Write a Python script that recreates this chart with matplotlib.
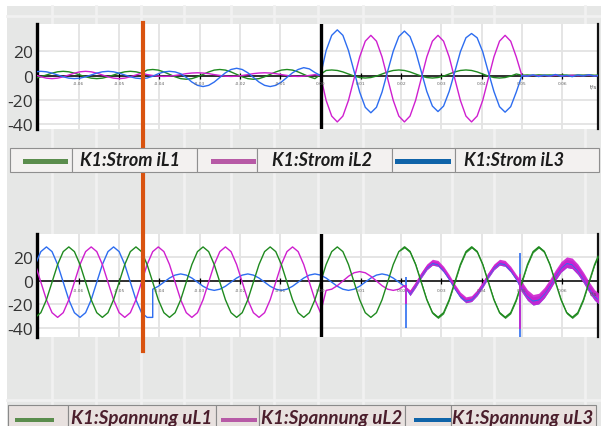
import numpy as np
import matplotlib
matplotlib.use("Agg")
import matplotlib.pyplot as plt
from matplotlib.patches import Rectangle
from matplotlib.lines import Line2D
from matplotlib.transforms import blended_transform_factory

# ---------------- data ----------------
# sample grid: 720 samples per second (one sample every 30 degrees of the 60 Hz wave)
sample_index = np.arange(-51, 51)
t = sample_index / 720.0

# currents (top panel)
iL1 = [-2.1, -1, 0.5,
       2, 3.1, 3.5, 3.1, 2, 0.5, -1, -2.1, -2.5, -2.1, -1, 0.5,
       2, 3.1, 3.5, 3.1, 2, 4.5, 5, 4.5, 3, 1, -1, -2.5,
       -3, -2.5, -1, 1, 3, 4.5, 5, 4.5, 3, 1, -1, -2.5,
       -3, -2.5, -1, 1, 3, 4.5, 5, 4.5, 3, 1, -1, -2.5,
       1, 4.2, 4.6, 4.2, 3, 1.3, -0.4, -1.6, -2, -1.6, -0.4, 1.3,
       3, 4.2, 4.6, 4.2, 3, 1.3, -0.4, -1.6, -2, -1.6, -0.4, 1.3,
       3, 4.2, 4.6, 4.2, 3, 1.3, -0.4, -1.6, -2, -1.6, -0.4, 1.3,
       0.3, 0.5, 0.2, 0.6, 0.4, 0.5, 0.3, 0.6, 0.4, 0.2, 0.5, 0.4,
       0.6, 0.3, 0.5]
iL2 = [0.5, -1, -2.1,
       -2.5, -2.1, -1, 0.5, 2, 3.1, 3.5, 3.1, 2, 0.5, -1, -2.1,
       -2.5, -2.1, -1, 0.5, 2, 0.8, 0.1, -0.5, -0.7, -0.5, 0.1, 0.8,
       1.6, 2.1, 2.3, 2.1, 1.6, 0.8, 0.1, -0.5, -0.7, -0.5, 0.1, 0.8,
       1.6, 2.1, 2.3, 2.1, 1.6, 0.8, 0.1, -0.5, -0.7, -0.5, 0.1, 0.8,
       0, -20.3, -33.2, -38, -33.2, -20.3, -2.5, 15.3, 28.2, 33, 28.2, 15.3,
       -2.5, -20.3, -33.2, -38, -33.2, -20.3, -2.5, 15.3, 28.2, 33, 28.2, 15.3,
       -2.5, -20.3, -33.2, -38, -33.2, -20.3, -2.5, 15.3, 28.2, 33, 28.2, 15.3,
       0, -0.3, 0.2, -0.2, 0.1, -0.3, 0.2, 0, -0.2, 0.3, -0.1, 0,
       0.2, -0.2, 0.1]
iL3 = [3.1, 3.5, 3.1,
       2, 0.5, -1, -2.1, -2.5, -2.1, -1, 0.5, 2, 3.1, 3.5, 3.1,
       2, 0.5, -1, -2.1, -2.5, -2, -0.5, 1.5, 3, 3.5, 3, 1.5,
       -1.5, -5.3, -8, -9, -8, -5.3, -1.5, 2.3, 5, 6, 5, 2.3,
       -1.5, -5.3, -8, -9, -8, -5.3, -1.5, 2.3, 5, 6.5, 5.5, 2.5,
       0, 20.5, 33, 37.5, 33, 20.5, 3.5, -13.5, -26, -30.5, -26, -13.5,
       3.5, 20, 32, 36.5, 32, 20, 3.5, -13, -25, -29.5, -25, -13,
       3, 19.5, 31, 34.5, 31, 19.5, 3, -13, -25.5, -30, -25.5, -13.5,
       0, -0.5, 0.6, -0.8, 0.3, -0.4, 0.9, -0.6, 0.2, -0.9, 0.5, -0.3,
       0.7, -0.5, 0.4]

# voltages (bottom panel)
uL1 = [-31, -27, -16,
       -1, 14, 25, 29, 25, 14, -1, -16, -27, -31, -27, -16,
       -1, 14, 25, 29, 25, 14, -1, -16, -27, -31, -27, -16,
       -1, 14, 25, 29, 25, 14, -1, -16, -27, -31, -27, -16,
       -1, 14, 25, 29, 25, 14, -1, -16, -27, -31, -27, -16,
       -1, 14, 25, 29, 25, 14, -1, -16, -27, -31, -27, -16,
       -1, 14, 25, 29, 25, 14, -1, -16, -27, -31, -27, -16,
       -1, 14, 25, 29, 25, 14, -1, -16, -27, -31, -27, -16,
       -1, 14, 25, 29, 25, 14, -1, -16, -27, -31, -27, -16,
       -1, 14, 25]
uL2 = [14, -1, -16,
       -27, -31, -27, -16, -1, 14, 25, 29, 25, 14, -1, -16,
       -27, -31, -27, -16, -1, 14, 25, 29, 25, 14, -1, -16,
       -27, -31, -27, -16, -1, 14, 25, 29, 25, 14, -1, -16,
       -27, -31, -27, -16, -1, 14, 25, 29, 25, 14, -1, -16,
       -27, -8, -7, -4, 0, 4, 7, 8, 7, 4, 0, -4,
       -7, -8, -7, -4, -10, -3, 5, 12, 16, 15, 10, 3,
       -5, -12, -16, -15, -10, -3, 5, 12, 16, 15, 10, 3,
       -5, -12, -16, -15, -10, -3, 5, 12, 16, 15, 10, 3,
       -5, -12, -16]
uL3 = [14, 25, 29,
       25, 14, -1, -16, -27, -31, -27, -16, -1, 14, 25, 29,
       25, 14, -1, -16, -27, -31, -7, -4.5, -1, 2.5, 5, 6,
       5, 2.5, -1, -4.5, -7, -8, -7, -4.5, -1, 2.5, 5, 6,
       5, 2.5, -1, -4.5, -7, -8, -7, -4.5, -1, 2.5, 5, 6,
       5, 2.5, -1, -4.5, -7, -8, -7, -4.5, -1, 2.5, 5, 6,
       5, 2.5, -1, -4.5, -11, -4, 4, 11, 15, 14, 9, 2,
       -6, -13, -17, -16, -11, -4, 4, 11, 15, 14, 9, 2,
       -6, -13, -17, -16, -11, -4, 4, 11, 15, 14, 9, 2,
       -6, -13, -17]
uL3_hold_t = -30 / 720.0     # uL3 stays at its minimum until here, then jumps
uL3_hold = -31

# half widths of the noisy bands
uL1_band = [0] * 66 + [1.0] * 36
uL2_band = [0] * 67 + [2.5] * 20 + [4.5] * 15
uL3_band = [0] * 67 + [1.5] * 20 + [3.5] * 15

# switching spikes
spike_t = [0.0212, 0.0495]
uL2_spike_lo = [-20, -41]
uL2_spike_hi = [-3, 6]
uL3_spike_lo = [-40, -48]
uL3_spike_hi = [3, 24]

cursor_t = -0.0442

x_ticks = [-0.06, -0.05, -0.04, -0.03, -0.02, -0.01, 0.0, 0.01, 0.02, 0.03, 0.04, 0.05, 0.06]
x_ticklabels = ['-0.06', '-0.05', '-0.04', '-0.03', '-0.02', '-0.01', '0.00',
                '0.01', '0.02', '0.03', '0.04', '0.05', '0.06']
y_ticks = [20, 0, -20, -40]

legend_top = ['K1:Strom iL1', 'K1:Strom iL2', 'K1:Strom iL3']
legend_bottom = ['K1:Spannung uL1', 'K1:Spannung uL2', 'K1:Spannung uL3']

# ---------------- styling ----------------
W, H = 601, 427
line_colors = ['#1f8a1f', '#cf1fcf', '#2d6df0']
swatch_colors = ['#5b8d4d', '#b75aa6', '#1064a9']
bg = '#e6e7e6'

fig = plt.figure(figsize=(W / 100, H / 100), dpi=100)
fig.patch.set_facecolor(bg)


def fx(px):
    return px / W


def fy(py):
    return 1 - py / H


# white page margins and the light tile lines of the background (behind the axes)
fig.add_artist(Rectangle((0, fy(7)), 1, 7 / H, transform=fig.transFigure,
                         facecolor='white', edgecolor='none', zorder=-3))
fig.add_artist(Rectangle((0, 0), fx(7), 1, transform=fig.transFigure,
                         facecolor='white', edgecolor='none', zorder=-3))
for px in [52, 96, 141, 184, 231, 274, 318, 363, 452, 494, 585]:
    fig.add_artist(Line2D([fx(px), fx(px)], [0, fy(7)], transform=fig.transFigure,
                          color='#f1f1f1', lw=2.0, zorder=-2))
for py in [17, 401]:
    fig.add_artist(Line2D([fx(7), 1], [fy(py), fy(py)], transform=fig.transFigure,
                          color='#f1f1f1', lw=2.0, zorder=-2))

ax1 = fig.add_axes([fx(37), fy(130), fx(598 - 37), (130 - 25) / H])
ax2 = fig.add_axes([fx(37), fy(338), fx(598 - 37), (338 - 235) / H])

font = 'Open Sans'


def setup(ax, ylim, label_off):
    ax.set_xlim(-0.0704, 0.0689)
    ax.set_ylim(*ylim)
    ax.set_facecolor('white')
    ax.set_xticks(x_ticks)
    ax.set_xticklabels([])
    ax.set_yticks(y_ticks)
    ax.set_yticklabels([str(v) for v in y_ticks], fontfamily=font)
    ax.tick_params(axis='both', length=0)
    ax.tick_params(axis='y', labelsize=12.5, labelcolor='#333333', pad=3)
    ax.grid(True, color='#e3e3e3', lw=1.3)
    ax.set_axisbelow(True)
    for s in ['top', 'bottom']:
        ax.spines[s].set_visible(False)
    ax.spines['left'].set_linewidth(2.4)
    ax.spines['left'].set_color('black')
    ax.spines['right'].set_linewidth(1.6)
    ax.spines['right'].set_color('#111111')
    ax.axhline(0, color='#111111', lw=1.2, zorder=1.5)
    ax.axvline(0, color='black', lw=2.4, zorder=4)
    ax.plot(x_ticks, [0] * len(x_ticks), ls='none', marker='|', ms=5, mew=0.9,
            color='black', zorder=1.6)
    for tv, lab in zip(x_ticks, x_ticklabels):
        ax.annotate(lab, (tv, 0), xytext=(0, label_off), textcoords='offset points',
                    ha='center', va='center', fontsize=3.2, color='#666666', zorder=5)
    ax.annotate('t/s', (0.0679, 0), xytext=(0, label_off - 2.5), textcoords='offset points',
                ha='center', va='center', fontsize=4.2, color='#555555', zorder=5)


setup(ax1, (-43.8, 42.3), -5.3)
setup(ax2, (-47.7, 40.0), -6.5)

# top panel: currents
for y, c in zip([iL1, iL2, iL3], line_colors):
    ax1.plot(t, y, color=c, lw=1.0, zorder=3)

# bottom panel: voltages
t_u3 = np.insert(t, np.searchsorted(t, uL3_hold_t), uL3_hold_t)
u3 = np.insert(np.array(uL3, dtype=float), np.searchsorted(t, uL3_hold_t), uL3_hold)
for y, band, c in [(np.array(uL3, float), uL3_band, line_colors[2]),
                   (np.array(uL2, float), uL2_band, line_colors[1]),
                   (np.array(uL1, float), uL1_band, line_colors[0])]:
    band = np.array(band, float)
    ax2.fill_between(t, y - band, y + band, color=c, lw=0, alpha=0.9, zorder=2.8)
ax2.plot(t_u3, u3, color=line_colors[2], lw=1.0, zorder=3)
ax2.plot(t, uL2, color=line_colors[1], lw=1.0, zorder=3.1)
ax2.plot(t, uL1, color=line_colors[0], lw=1.0, zorder=3.2)
ax2.vlines(spike_t, uL3_spike_lo, uL3_spike_hi, color=line_colors[2], lw=1.2, zorder=3.3)
ax2.vlines(spike_t, uL2_spike_lo, uL2_spike_hi, color=line_colors[1], lw=1.2, zorder=3.3)

# orange cursor across both panels
tr = blended_transform_factory(ax1.transData, fig.transFigure)
fig.add_artist(Line2D([cursor_t, cursor_t], [fy(352), fy(24)], transform=tr,
                      color='#d9530f', lw=3.0, zorder=5))


def legend_row(cells, bars, text_x, y0, y1, bar_y, bar_h, names, fc, ec, tc, fs):
    for (a, b) in cells:
        fig.add_artist(Rectangle((fx(a), fy(y1)), fx(b - a), (y1 - y0) / H,
                                 transform=fig.transFigure, facecolor=fc,
                                 edgecolor=ec, lw=0.8, zorder=6))
    for (a, b), c in zip(bars, swatch_colors):
        fig.add_artist(Rectangle((fx(a), fy(bar_y + bar_h / 2)), fx(b - a), bar_h / H,
                                 transform=fig.transFigure, facecolor=c,
                                 edgecolor='none', zorder=7))
    for x, name in zip(text_x, names):
        fig.text(fx(x), fy((y0 + y1) / 2), name, ha='left', va='center',
                 fontsize=fs, fontweight='bold', fontstyle='italic',
                 color=tc, fontfamily='Lato', zorder=8)


legend_row([(10, 72), (72, 197), (197, 257), (257, 392), (392, 455), (455, 599)],
           [(23, 68), (211, 256), (395, 451)], [80, 272, 464],
           149, 173, 162, 5, legend_top, '#f3f1f0', '#8f8f8f', '#1c1c1c', 13)
legend_row([(8, 68), (68, 216), (216, 259), (259, 405), (405, 451), (451, 596)],
           [(15, 54), (221, 257), (414, 451)], [71, 261, 452],
           406, 432, 421, 4, legend_bottom, '#e8e1df', '#8a8a8a', '#4b1e2c', 13.5)

fig.savefig('out.png', dpi=100, facecolor=fig.get_facecolor())
